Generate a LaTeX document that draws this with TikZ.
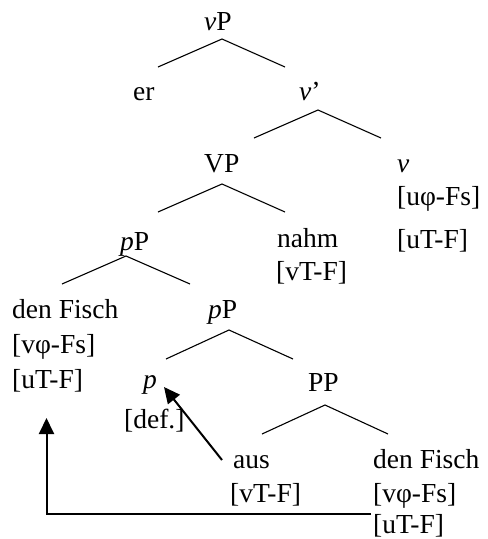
\documentclass[tikz,border=0pt]{standalone}
\usepackage{fontspec}
\setmainfont{Liberation Serif}
\usetikzlibrary{arrows.meta}
\begin{document}
\begin{tikzpicture}[x=1pt,y=-1pt,
  lbl/.style={anchor=base west,inner sep=0pt,font=\fontsize{27.5}{32}\selectfont},
  branch/.style={line width=1.1pt},
  move/.style={line width=2pt,-{Triangle[length=16pt,width=15pt]}}]
\useasboundingbox (0,0) rectangle (488,539);
% labels
\node[lbl] (vP) at (204,30) {\textit{v}P};
\node[lbl] (er) at (133,100) {er};
\node[lbl] (vbar) at (299,100) {\textit{v}’};
\node[lbl] (VP) at (204,172) {VP};
\node[lbl] (vhead) at (397,172) {\textit{v}};
\node[lbl] (vf1) at (397,205) {[uφ-Fs]};
\node[lbl] (vf2) at (397,248) {[uT-F]};
\node[lbl] (nahm) at (277,247) {nahm};
\node[lbl] (nahmf) at (276,280) {[vT-F]};
\node[lbl] (pP) at (120,250) {\textit{p}P};
\node[lbl] (dF) at (12,318) {den Fisch};
\node[lbl] (dFf1) at (12,353) {[vφ-Fs]};
\node[lbl] (dFf2) at (12,388) {[uT-F]};
\node[lbl] (pP2) at (208,318) {\textit{p}P};
\node[lbl] (phead) at (143,388) {\textit{p}};
\node[lbl] (def) at (124,428) {[def.]};
\node[lbl] (PP) at (308,391) {PP};
\node[lbl] (aus) at (233,468) {aus};
\node[lbl] (ausf) at (230,502) {[vT-F]};
\node[lbl] (dF2) at (373,468) {den Fisch};
\node[lbl] (dF2f1) at (373,502) {[vφ-Fs]};
\node[lbl] (dF2f2) at (373,533) {[uT-F]};
% branch points
\coordinate (a1) at (222,39);  \coordinate (l1) at (158,67);  \coordinate (r1) at (285,67);
\coordinate (a2) at (318,110); \coordinate (l2) at (254,138); \coordinate (r2) at (381,138);
\coordinate (a3) at (222,184); \coordinate (l3) at (158,212); \coordinate (r3) at (285,212);
\coordinate (a4) at (126,256); \coordinate (l4) at (62,284);  \coordinate (r4) at (190,284);
\coordinate (a5) at (229,330); \coordinate (l5) at (166,359); \coordinate (r5) at (293,359);
\coordinate (a6) at (325,405); \coordinate (l6) at (262,434); \coordinate (r6) at (388,434);
\draw[branch] (l1) -- (a1) -- (r1);
\draw[branch] (l2) -- (a2) -- (r2);
\draw[branch] (l3) -- (a3) -- (r3);
\draw[branch] (l4) -- (a4) -- (r4);
\draw[branch] (l5) -- (a5) -- (r5);
\draw[branch] (l6) -- (a6) -- (r6);
% movement arrows
\coordinate (m1s) at (222,460); \coordinate (m1e) at (164,387);
\draw[move] (m1s) -- (m1e);
\coordinate (m2s) at (371,514); \coordinate (m2c) at (46.5,514); \coordinate (m2e) at (46.5,418);
\draw[move] (m2s) -- (m2c) -- (m2e);
\end{tikzpicture}
\end{document}
